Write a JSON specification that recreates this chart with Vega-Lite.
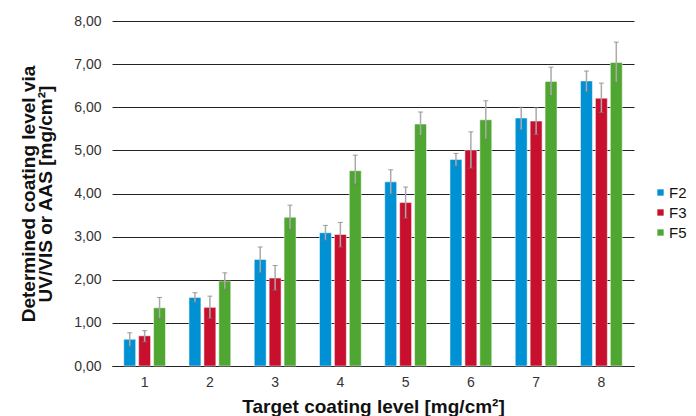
{
  "$schema": "https://vega.github.io/schema/vega-lite/v6.json",
  "autosize": "none",
  "width": 522,
  "height": 345,
  "padding": {"left": 112, "top": 21, "right": 62, "bottom": 50},
  "background": "white",
  "config": {
    "font": "Liberation Sans",
    "view": {"stroke": null}
  },
  "data": {
    "values": [
      {"level": "1", "s": "F2", "v": 0.62, "lo": 0.46, "hi": 0.77},
      {"level": "1", "s": "F3", "v": 0.70, "lo": 0.56, "hi": 0.82},
      {"level": "1", "s": "F5", "v": 1.35, "lo": 1.10, "hi": 1.59},
      {"level": "2", "s": "F2", "v": 1.59, "lo": 1.48, "hi": 1.70},
      {"level": "2", "s": "F3", "v": 1.36, "lo": 1.11, "hi": 1.62},
      {"level": "2", "s": "F5", "v": 1.97, "lo": 1.78, "hi": 2.16},
      {"level": "3", "s": "F2", "v": 2.47, "lo": 2.17, "hi": 2.76},
      {"level": "3", "s": "F3", "v": 2.04, "lo": 1.76, "hi": 2.33},
      {"level": "3", "s": "F5", "v": 3.45, "lo": 3.17, "hi": 3.73},
      {"level": "4", "s": "F2", "v": 3.09, "lo": 2.92, "hi": 3.26},
      {"level": "4", "s": "F3", "v": 3.05, "lo": 2.76, "hi": 3.33},
      {"level": "4", "s": "F5", "v": 4.53, "lo": 4.22, "hi": 4.89},
      {"level": "5", "s": "F2", "v": 4.27, "lo": 3.99, "hi": 4.55},
      {"level": "5", "s": "F3", "v": 3.79, "lo": 3.43, "hi": 4.15},
      {"level": "5", "s": "F5", "v": 5.61, "lo": 5.34, "hi": 5.89},
      {"level": "6", "s": "F2", "v": 4.79, "lo": 4.64, "hi": 4.93},
      {"level": "6", "s": "F3", "v": 5.01, "lo": 4.59, "hi": 5.43},
      {"level": "6", "s": "F5", "v": 5.71, "lo": 5.26, "hi": 6.15},
      {"level": "7", "s": "F2", "v": 5.75, "lo": 5.48, "hi": 6.00},
      {"level": "7", "s": "F3", "v": 5.68, "lo": 5.37, "hi": 5.99},
      {"level": "7", "s": "F5", "v": 6.60, "lo": 6.27, "hi": 6.93},
      {"level": "8", "s": "F2", "v": 6.61, "lo": 6.36, "hi": 6.84},
      {"level": "8", "s": "F3", "v": 6.21, "lo": 5.88, "hi": 6.56},
      {"level": "8", "s": "F5", "v": 7.04, "lo": 6.57, "hi": 7.51}
    ]
  },
  "encoding": {
    "x": {
      "field": "level", "type": "nominal",
      "scale": {"paddingInner": 0.36, "paddingOuter": 0.18},
      "axis": {
        "title": "Target coating level [mg/cm²]",
        "titleFont": "Liberation Sans", "titleFontSize": 19, "titleFontWeight": "bold",
        "titleColor": "#111", "titlePadding": 8,
        "labelAngle": 0, "labelFontSize": 14, "labelColor": "#333", "labelPadding": 9,
        "ticks": false, "domainColor": "#222", "domainWidth": 1, "grid": false
      }
    },
    "xOffset": {"field": "s", "type": "nominal", "scale": {"paddingInner": 0.2}}
  },
  "layer": [
    {
      "mark": {"type": "bar", "stroke": "white", "strokeOpacity": 0.5, "strokeWidth": 1},
      "encoding": {
        "y": {
          "field": "v", "type": "quantitative",
          "scale": {"domain": [0, 8]},
          "axis": {
            "title": ["Determined coating level via", "UV/VIS or AAS [mg/cm²]"],
            "titleFont": "Liberation Sans", "titleFontSize": 19, "titleFontWeight": "bold",
            "titleColor": "#111", "titlePadding": 18, "titleLineHeight": 17,
            "values": [0, 1, 2, 3, 4, 5, 6, 7, 8],
            "labelExpr": "replace(format(datum.value, '.2f'), '.', ',')",
            "labelOverlap": false,
            "labelFontSize": 14, "labelColor": "#333", "labelPadding": 11,
            "ticks": false, "domain": false,
            "grid": true, "gridColor": "#222", "gridWidth": 1
          }
        },
        "color": {
          "field": "s", "type": "nominal",
          "scale": {"domain": ["F2", "F3", "F5"], "range": ["#0090d4", "#c8102e", "#4fa731"]},
          "legend": {
            "title": null, "orient": "none", "legendX": 541, "legendY": 164,
            "symbolType": "square", "symbolSize": 40, "symbolStrokeWidth": 0,
            "labelFontSize": 15, "labelColor": "#111", "labelOffset": 1,
            "rowPadding": 4
          }
        }
      }
    },
    {
      "mark": {"type": "rule", "color": "#aaaaaa", "strokeWidth": 1.5},
      "encoding": {
        "y": {
          "field": "lo", "type": "quantitative",
          "axis": {
            "title": ["Determined coating level via", "UV/VIS or AAS [mg/cm²]"],
            "titleFont": "Liberation Sans", "titleFontSize": 19, "titleFontWeight": "bold",
            "titleColor": "#111", "titlePadding": 18, "titleLineHeight": 17,
            "values": [0, 1, 2, 3, 4, 5, 6, 7, 8],
            "labelExpr": "replace(format(datum.value, '.2f'), '.', ',')",
            "labelOverlap": false,
            "labelFontSize": 14, "labelColor": "#333", "labelPadding": 11,
            "ticks": false, "domain": false,
            "grid": true, "gridColor": "#222", "gridWidth": 1
          }
        },
        "y2": {"field": "hi"}
      }
    },
    {
      "mark": {"type": "tick", "color": "#777777", "thickness": 1, "size": 5},
      "encoding": {
        "y": {
          "field": "lo", "type": "quantitative",
          "axis": {
            "title": ["Determined coating level via", "UV/VIS or AAS [mg/cm²]"],
            "titleFont": "Liberation Sans", "titleFontSize": 19, "titleFontWeight": "bold",
            "titleColor": "#111", "titlePadding": 18, "titleLineHeight": 17,
            "values": [0, 1, 2, 3, 4, 5, 6, 7, 8],
            "labelExpr": "replace(format(datum.value, '.2f'), '.', ',')",
            "labelOverlap": false,
            "labelFontSize": 14, "labelColor": "#333", "labelPadding": 11,
            "ticks": false, "domain": false,
            "grid": true, "gridColor": "#222", "gridWidth": 1
          }
        }
      }
    },
    {
      "mark": {"type": "tick", "color": "#777777", "thickness": 1, "size": 5},
      "encoding": {
        "y": {
          "field": "hi", "type": "quantitative",
          "axis": {
            "title": ["Determined coating level via", "UV/VIS or AAS [mg/cm²]"],
            "titleFont": "Liberation Sans", "titleFontSize": 19, "titleFontWeight": "bold",
            "titleColor": "#111", "titlePadding": 18, "titleLineHeight": 17,
            "values": [0, 1, 2, 3, 4, 5, 6, 7, 8],
            "labelExpr": "replace(format(datum.value, '.2f'), '.', ',')",
            "labelOverlap": false,
            "labelFontSize": 14, "labelColor": "#333", "labelPadding": 11,
            "ticks": false, "domain": false,
            "grid": true, "gridColor": "#222", "gridWidth": 1
          }
        }
      }
    }
  ]
}
